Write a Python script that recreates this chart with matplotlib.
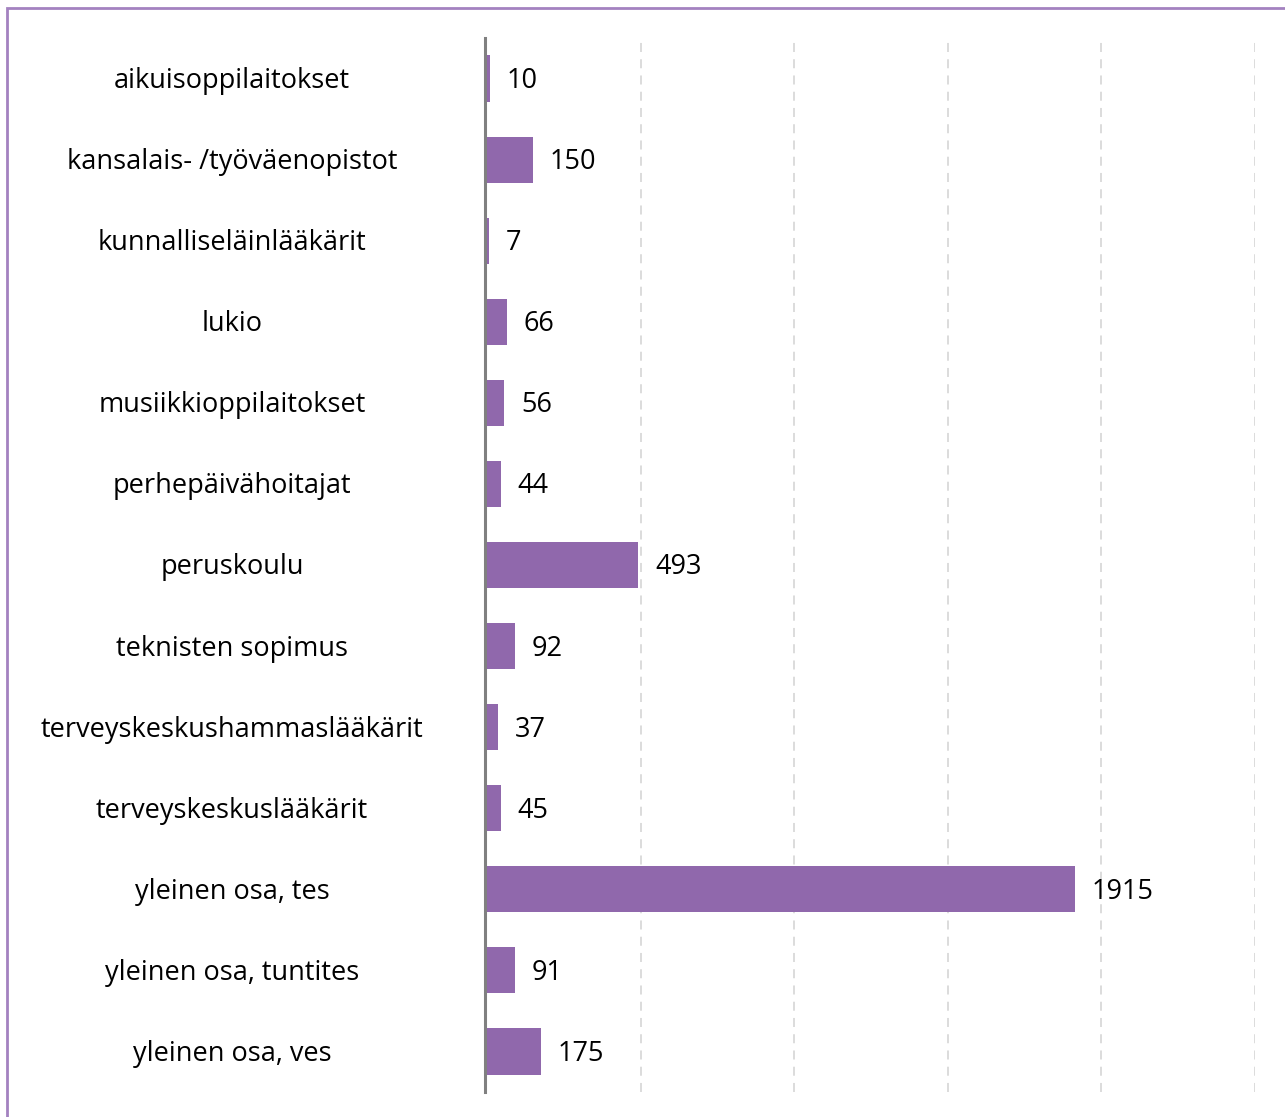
import matplotlib.pyplot as plt
import matplotlib.transforms as mtransforms
from matplotlib.lines import Line2D
from matplotlib.patches import Rectangle

categories = [
    "aikuisoppilaitokset",
    "kansalais- /työväenopistot",
    "kunnalliseläinlääkärit",
    "lukio",
    "musiikkioppilaitokset",
    "perhepäivähoitajat",
    "peruskoulu",
    "teknisten sopimus",
    "terveyskeskushammaslääkärit",
    "terveyskeskuslääkärit",
    "yleinen osa, tes",
    "yleinen osa, tuntites",
    "yleinen osa, ves",
]
counts = [10, 150, 7, 66, 56, 44, 493, 92, 37, 45, 1915, 91, 175]
grid_ticks = [500, 1000, 1500, 2000, 2500]

bar_color = "#9068ac"
plt.rcParams["font.family"] = ["Open Sans", "DejaVu Sans"]

W, H = 1285, 1117
fig = plt.figure(figsize=(W / 100, H / 100), dpi=100)
ax = fig.add_axes([487 / W, 1 - 1092 / H, (1255 - 487) / W, (1092 - 38) / H])

ypos = list(range(len(categories)))
ax.barh(ypos, counts, height=0.57, color=bar_color, zorder=3)

ax.set_xlim(0, 2500)
ax.set_ylim(len(categories) - 0.5, -0.5)

for x in grid_ticks:
    ax.axvline(x, color="#d9d9d9", linestyle=(0, (5, 4)), linewidth=1.3, zorder=1)

for side in ["top", "right", "bottom", "left"]:
    ax.spines[side].set_visible(False)
ax.set_xticks([])
ax.set_yticks([])

# grey category axis, sitting just left of where the bars start
fig.add_artist(Line2D([485 / W, 485 / W], [1 - 38 / H, 1 - 1092 / H],
                      transform=fig.transFigure, color="#808080", linewidth=2.2))

# category names centred in the left margin
label_tf = mtransforms.blended_transform_factory(fig.transFigure, ax.transData)
for y, name in zip(ypos, categories):
    ax.text(232 / W, y + 0.03, name, transform=label_tf, ha="center", va="center",
            fontsize=19.5, color="#000000", clip_on=False)

for y, v in zip(ypos, counts):
    ax.annotate(str(v), xy=(v, y + 0.03), xytext=(12, 0), textcoords="offset points",
                ha="left", va="center", fontsize=19.5, color="#000000")

# purple frame around the chart
fig.patches.append(Rectangle((7 / W, -0.1), 1.2, 1 - 8 / H + 0.1, transform=fig.transFigure,
                             fill=False, edgecolor="#a382c0", linewidth=2))

fig.savefig("out.png", dpi=100)
